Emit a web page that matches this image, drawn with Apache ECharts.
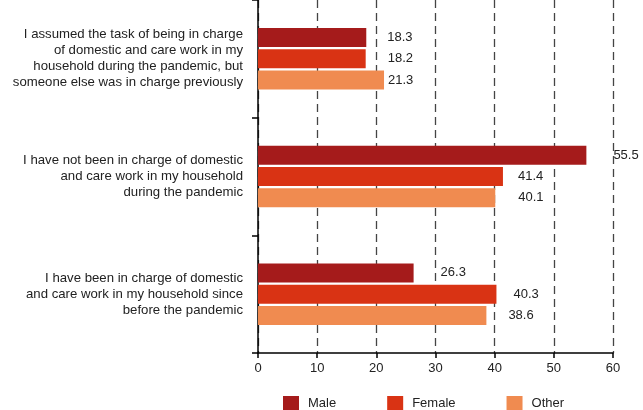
<!DOCTYPE html>
<html>
<head>
<meta charset="utf-8">
<script src="https://cdn.jsdelivr.net/npm/echarts@6/dist/echarts.min.js"></script>
<style>
html,body{margin:0;padding:0;background:#fff;}
#chart{width:643px;height:410px;}
</style>
</head>
<body>
<div id="chart"></div>
<script>
var categories = [
  "I assumed the task of being in charge\nof domestic and care work in my\nhousehold during the pandemic, but\nsomeone else was in charge previously",
  "I have not been in charge of domestic\nand care work in my household\nduring the pandemic",
  "I have been in charge of domestic\nand care work in my household since\nbefore the pandemic"
];
var seriesNames = ["Male", "Female", "Other"];
var maleValues = [18.3, 55.5, 26.3];
var femaleValues = [18.2, 41.4, 40.3];
var otherValues = [21.3, 40.1, 38.6];
var xTicks = [0, 10, 20, 30, 40, 50, 60];

// styling (label gaps in px, colours)
var colors = ["#a51b1b", "#d93314", "#f08b50"];
var labelGaps = [[21, 27, 27], [22, 15, 17], [4, 23, 22]];

var font = "'Liberation Sans', Arial, Helvetica, sans-serif";
var allValues = [maleValues, femaleValues, otherValues];

function mkSeries(i) {
  return {
    name: seriesNames[i],
    type: 'bar',
    barWidth: 19,
    barGap: '12%',
    itemStyle: { color: colors[i] },
    data: allValues[i].map(function (v, j) {
      return {
        value: v,
        label: { distance: labelGaps[i][j] }
      };
    }),
    label: {
      show: true,
      position: 'right',
      color: '#222',
      fontSize: 13,
      fontFamily: font,
      formatter: function (p) { return p.value.toFixed(1); }
    }
  };
}

var chart = echarts.init(document.getElementById('chart'), null, { renderer: 'canvas' });
chart.setOption({
  animation: false,
  backgroundColor: '#fff',
  textStyle: { fontFamily: font },
  grid: { left: 258, right: 30, top: 0, bottom: 57, containLabel: false },
  legend: {
    data: seriesNames,
    left: 278,
    top: 391,
    itemWidth: 16,
    itemHeight: 15,
    itemGap: 51,
    icon: 'rect',
    textStyle: { color: '#222', fontSize: 13, fontFamily: font, padding: [0, 0, 0, 4] }
  },
  xAxis: {
    type: 'value',
    min: xTicks[0],
    max: xTicks[xTicks.length - 1],
    interval: xTicks[1] - xTicks[0],
    axisLine: { show: true, lineStyle: { color: '#000', width: 1.5 } },
    axisTick: { show: true, length: 5, lineStyle: { color: '#000', width: 1.5 } },
    axisLabel: { color: '#222', fontSize: 13, fontFamily: font, margin: 9 },
    splitLine: { show: true, lineStyle: { color: '#444', type: [8, 5], width: 1.3 } }
  },
  yAxis: {
    type: 'category',
    data: categories,
    inverse: true,
    axisLine: { show: true, onZero: false, lineStyle: { color: '#000', width: 1.5 } },
    axisTick: { show: true, length: 6, lineStyle: { color: '#000', width: 1.5 } },
    axisLabel: { color: '#222', fontSize: 13.2, fontFamily: font, margin: 15, lineHeight: 16, align: 'right', padding: [4, 0, 0, 0] },
    splitLine: { show: false }
  },
  series: [mkSeries(0), mkSeries(1), mkSeries(2)]
});
</script>
</body>
</html>
